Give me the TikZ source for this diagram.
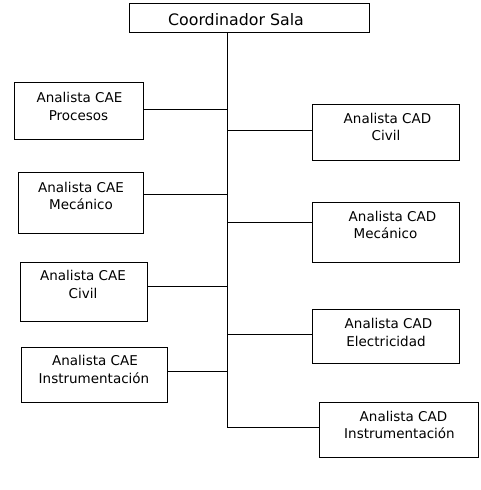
\documentclass[tikz,border=0pt]{standalone}
\usepackage{fontspec}
\setmainfont{DejaVu Sans}
\begin{document}
\begin{tikzpicture}[x=1pt,y=-1pt,
  box/.style={draw=black,line width=1pt,fill=white,inner sep=0pt},
  txt/.style={anchor=base,inner sep=0pt,font=\fontsize{13.5}{16}\selectfont},
  ttl/.style={anchor=base,inner sep=0pt,font=\fontsize{15.8}{18}\selectfont},
  conn/.style={line width=1pt,draw=black}]
\useasboundingbox[fill=white] (0,0) rectangle (481,490);
% boxes
\node[box,minimum width=240pt,minimum height=29pt] (top) at (249,17.5) {};
\node[box,minimum width=129pt,minimum height=57pt] (L1) at (78.5,110.5) {};
\node[box,minimum width=125pt,minimum height=61pt] (L2) at (80.5,202.5) {};
\node[box,minimum width=127pt,minimum height=59pt] (L3) at (83.5,291.5) {};
\node[box,minimum width=146pt,minimum height=55pt] (L4) at (94,374.5) {};
\node[box,minimum width=147pt,minimum height=56pt] (R1) at (385.5,132) {};
\node[box,minimum width=147pt,minimum height=60pt] (R2) at (385.5,232) {};
\node[box,minimum width=147pt,minimum height=54pt] (R3) at (385.5,336) {};
\node[box,minimum width=159pt,minimum height=55pt] (R4) at (398.5,429.5) {};
% texts
\node[ttl] (tt) at (236,25.5) {Coordinador Sala};
\node[txt] (t1a) at (79.5,102) {Analista CAE};
\node[txt] (t1b) at (78.5,120) {Procesos};
\node[txt] (t2a) at (81,192) {Analista CAE};
\node[txt] (t2b) at (81,209.5) {Mecánico};
\node[txt] (t3a) at (83,280) {Analista CAE};
\node[txt] (t3b) at (83,298) {Civil};
\node[txt] (t4a) at (95,365) {Analista CAE};
\node[txt] (t4b) at (94,383) {Instrumentación};
\node[txt] (r1a) at (387.5,123) {Analista CAD};
\node[txt] (r1b) at (386,140.5) {Civil};
\node[txt] (r2a) at (392.5,221) {Analista CAD};
\node[txt] (r2b) at (385.5,238.5) {Mecánico};
\node[txt] (r3a) at (388.5,328) {Analista CAD};
\node[txt] (r3b) at (386,346.5) {Electricidad};
\node[txt] (r4a) at (403.5,421) {Analista CAD};
\node[txt] (r4b) at (399.5,438.5) {Instrumentación};
% trunk coordinates
\coordinate (j0) at (227,32);
\coordinate (c1) at (227,109);
\coordinate (c2) at (227,194);
\coordinate (c3) at (227,286);
\coordinate (c4) at (227,371);
\coordinate (d1) at (227,130.5);
\coordinate (d2) at (227,222);
\coordinate (d3) at (227,334);
\coordinate (d4) at (227,427);
% connectors
\draw[conn] (j0) -- (d4);
\draw[conn] (c1) -- (c1 -| L1.east);
\draw[conn] (c2) -- (c2 -| L2.east);
\draw[conn] (c3) -- (c3 -| L3.east);
\draw[conn] (c4) -- (c4 -| L4.east);
\draw[conn] (d1) -- (d1 -| R1.west);
\draw[conn] (d2) -- (d2 -| R2.west);
\draw[conn] (d3) -- (d3 -| R3.west);
\draw[conn] (d4) -- (d4 -| R4.west);
\end{tikzpicture}
\end{document}
